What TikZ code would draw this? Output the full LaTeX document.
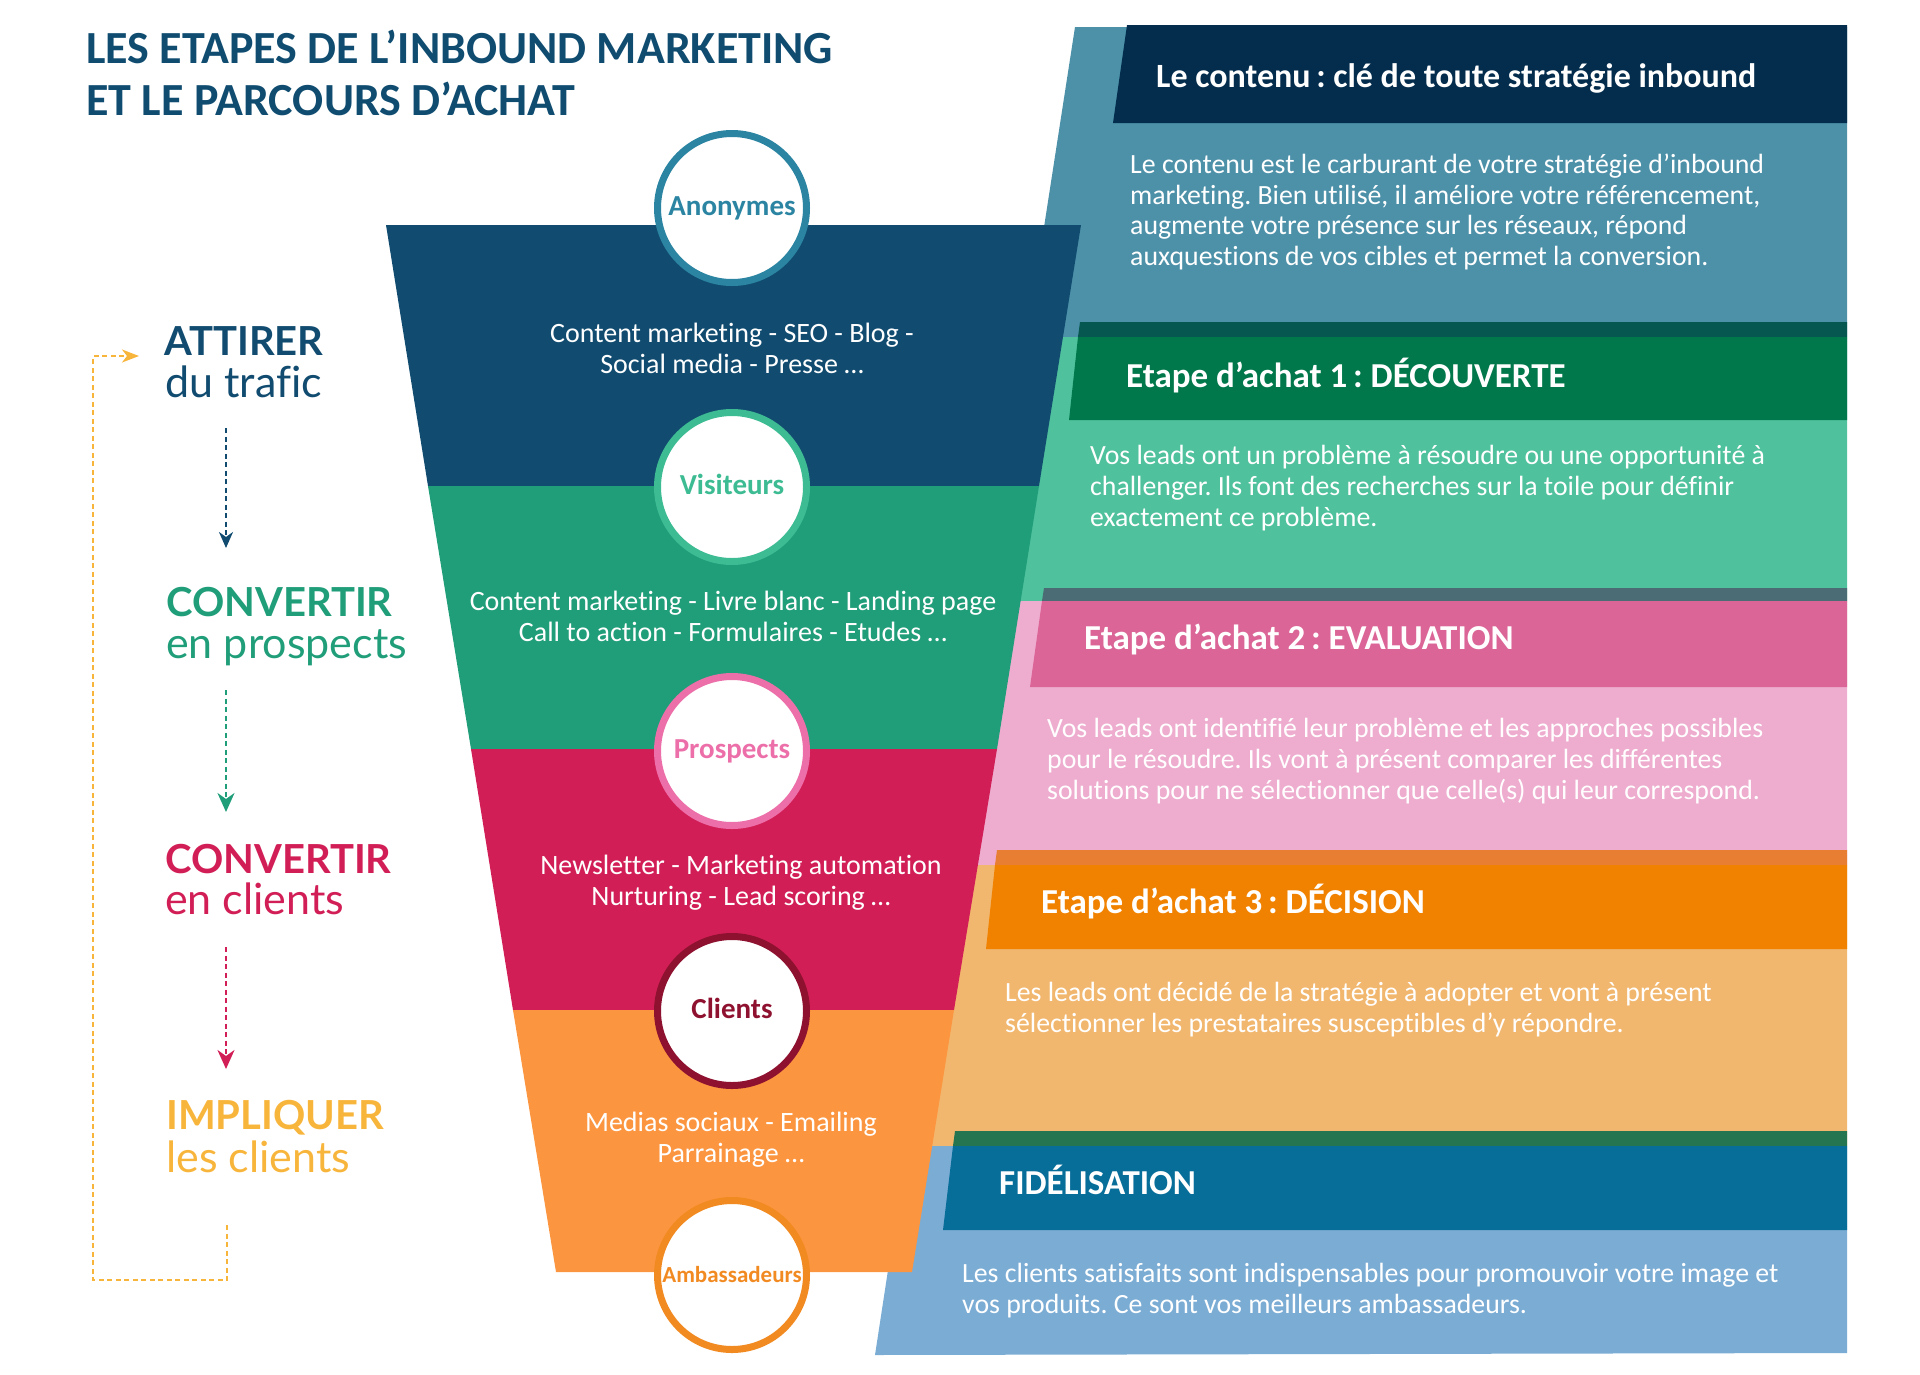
\documentclass[tikz,border=0pt]{standalone}
\usepackage{fontspec}
\setmainfont{Carlito}[Ligatures=NoCommon]
\newfontfamily\leftfont{Lato}[Ligatures=NoCommon]
\usetikzlibrary{arrows.meta}
\definecolor{titleblue}{HTML}{0F4C70}
\definecolor{bandteal}{HTML}{4D91A9}
\definecolor{bandgreen}{HTML}{4FC19C}
\definecolor{bandpink}{HTML}{EEADCF}
\definecolor{bandorange}{HTML}{F2B76E}
\definecolor{bandblue}{HTML}{7BACD4}
\definecolor{headnavy}{HTML}{042C4C}
\definecolor{headgreen}{HTML}{00784B}
\definecolor{headpink}{HTML}{DB6597}
\definecolor{headorange}{HTML}{F18200}
\definecolor{headblue}{HTML}{076D99}
\definecolor{stripgreen}{HTML}{06574F}
\definecolor{stripgrey}{HTML}{4B6C74}
\definecolor{striporange}{HTML}{E87E31}
\definecolor{stripmoss}{HTML}{257650}
\definecolor{funnelblue}{HTML}{114C70}
\definecolor{funnelgreen}{HTML}{209D79}
\definecolor{funnelred}{HTML}{D21E56}
\definecolor{funnelorange}{HTML}{FC9540}
\definecolor{ringteal}{HTML}{2A84A2}
\definecolor{ringgreen}{HTML}{3DBB92}
\definecolor{ringpink}{HTML}{EC6FA9}
\definecolor{ringred}{HTML}{8E1230}
\definecolor{ringorange}{HTML}{F28A22}
\definecolor{stepyellow}{HTML}{F8B53C}
\tikzset{
  ring/.style={circle, draw=#1, line width=7pt, fill=white, minimum size=149pt, inner sep=0pt, text=#1, text height=20pt, text depth=5pt, font=\bfseries\fontsize{29}{34}\selectfont},
  headtext/.style={anchor=base west, inner sep=0pt, text=white, font=\bfseries\fontsize{35}{38}\selectfont},
  bodytext/.style={anchor=base west, inner sep=0pt, text=white, align=left, font=\fontsize{27.8}{30.7}\selectfont},
  funneltext/.style={anchor=base, inner sep=0pt, text=white, align=center, font=\fontsize{28}{30.7}\selectfont},
  stepmain/.style={anchor=base west, inner sep=0pt, text=#1, font=\leftfont\bfseries\fontsize{40}{40}\selectfont},
  stepsub/.style={anchor=base west, inner sep=0pt, text=#1, font=\leftfont\fontsize{43}{40}\selectfont},
  flowline/.style={draw=#1, line width=2pt, dash pattern=on 5pt off 3.5pt, -{Stealth[length=19pt,width=17pt,inset=6pt]}},
}
\begin{document}
\frenchspacing
\begin{tikzpicture}[x=1pt,y=-1pt]
  \useasboundingbox (0,0) rectangle (1920,1374);
  % right column
  \fill [bandteal] (1075,27) -- (1847,27) -- (1847,337) -- (1027,337) -- cycle;
  \fill [bandgreen] (1027,337) -- (1847,337) -- (1847,601) -- (987,601) -- cycle;
  \fill [bandpink] (987,601) -- (1847,601) -- (1847,865) -- (947,865) -- cycle;
  \fill [bandorange] (947,865) -- (1847,865) -- (1847,1146) -- (907,1146) -- cycle;
  \fill [bandblue] (907,1146) -- (1847,1146) -- (1847,1353) -- (875,1355) -- cycle;
  \fill [headnavy] (1127,25) -- (1847,25) -- (1847,123) -- (1113,123) -- cycle;
  \fill [stripgreen] (1080,322) -- (1847,322) -- (1847,337) -- (1078,337) -- cycle;
  \fill [headgreen] (1078,337) -- (1847,337) -- (1847,420) -- (1069,420) -- cycle;
  \fill [stripgrey] (1044,588) -- (1847,588) -- (1847,601) -- (1042,601) -- cycle;
  \fill [headpink] (1042,601) -- (1847,601) -- (1847,687) -- (1030,687) -- cycle;
  \fill [striporange] (997,850) -- (1847,850) -- (1847,865) -- (995,865) -- cycle;
  \fill [headorange] (995,865) -- (1847,865) -- (1847,949) -- (986,949) -- cycle;
  \fill [stripmoss] (955,1131) -- (1847,1131) -- (1847,1146) -- (953,1146) -- cycle;
  \fill [headblue] (953,1146) -- (1847,1146) -- (1847,1230) -- (943,1230) -- cycle;
  % funnel
  \fill [funnelblue] (386,225) -- (1081,225) -- (1039,486) -- (428,486) -- cycle;
  \fill [funnelgreen] (428,486) -- (1039,486) -- (997,749) -- (471,749) -- cycle;
  \fill [funnelred] (471,749) -- (997,749) -- (954,1010) -- (513,1010) -- cycle;
  \fill [funnelorange] (513,1010) -- (954,1010) -- (912,1272) -- (556,1272) -- cycle;
  % circles
  \node [ring=ringteal] (anonymes) at (732,208) {Anonymes};
  \node [ring=ringgreen] (visiteurs) at (732,487) {Visiteurs};
  \node [ring=ringpink] (prospects) at (732,751) {Prospects};
  \node [ring=ringred] (clients) at (732,1011) {Clients};
  \node [ring=ringorange, font=\bfseries\fontsize{23}{28}\selectfont] (ambassadeurs) at (732,1275) {Ambassadeurs};
  % title
  \node [anchor=base west, inner sep=0pt, text=titleblue, align=left, font=\bfseries\fontsize{46}{51.5}\selectfont] (title) at (86,115) {LES ETAPES DE L’INBOUND MARKETING\\ET LE PARCOURS D’ACHAT};
  % funnel texts
  \node [funneltext] (tools1) at (732,373.5) {Content marketing - SEO - Blog -\\Social media - Presse …};
  \node [funneltext] (tools2) at (733,641) {Content marketing - Livre blanc - Landing page\\Call to action - Formulaires - Etudes …};
  \node [funneltext] (tools3) at (741,905.5) {Newsletter - Marketing automation\\Nurturing - Lead scoring …};
  \node [funneltext] (tools4) at (731,1162.5) {Medias sociaux - Emailing\\Parrainage …};
  % headers and paragraphs
  \node [headtext, font=\bfseries\fontsize{34}{38}\selectfont] (head0) at (1156,87) {Le contenu\,: clé de toute stratégie inbound};
  \node [bodytext] (body0) at (1130,265.6) {Le contenu est le carburant de votre stratégie d’inbound\\marketing. Bien utilisé, il améliore votre référencement,\\augmente votre présence sur les réseaux, répond\\auxquestions de vos cibles et permet la conversion.};
  \node [headtext] (head1) at (1126,387) {Etape d’achat 1\,: DÉCOUVERTE};
  \node [bodytext] (body1) at (1090,526) {Vos leads ont un problème à résoudre ou une opportunité à\\challenger. Ils font des recherches sur la toile pour définir\\exactement ce problème.};
  \node [headtext] (head2) at (1084,649) {Etape d’achat 2\,: EVALUATION};
  \node [bodytext] (body2) at (1047,799) {Vos leads ont identifié leur problème et les approches possibles\\pour le résoudre. Ils vont à présent comparer les différentes\\solutions pour ne sélectionner que celle(s) qui leur correspond.};
  \node [headtext] (head3) at (1041,913) {Etape d’achat 3\,: DÉCISION};
  \node [bodytext] (body3) at (1005,1032) {Les leads ont décidé de la stratégie à adopter et vont à présent\\sélectionner les prestataires susceptibles d’y répondre.};
  \node [headtext] (head4) at (999,1194) {FIDÉLISATION};
  \node [bodytext] (body4) at (962,1313) {Les clients satisfaits sont indispensables pour promouvoir votre image et\\vos produits. Ce sont vos meilleurs ambassadeurs.};
  % left steps
  \node [stepmain=funnelblue] (attirer) at (164,355) {ATTIRER};
  \node [stepsub=funnelblue] (trafic) at (165,397) {du trafic};
  \node [stepmain=funnelgreen] (convertir) at (166,616) {CONVERTIR};
  \node [stepsub=funnelgreen] (prospect) at (166,658) {en prospects};
  \node [stepmain=funnelred] (convclients) at (165,873) {CONVERTIR};
  \node [stepsub=funnelred] (enclients) at (165,914) {en clients};
  \node [stepmain=stepyellow] (impliquer) at (166,1129) {IMPLIQUER};
  \node [stepsub=stepyellow] (lesclients) at (166,1172) {les clients};
  % dashed arrows
  \coordinate (a1) at (226,428);
  \coordinate (a2) at (226,548);
  \coordinate (b1) at (226,690);
  \coordinate (b2) at (226,812);
  \coordinate (c1) at (226,947);
  \coordinate (c2) at (226,1069);
  \coordinate (d1) at (227,1225);
  \coordinate (d2) at (227,1280);
  \coordinate (d3) at (93,1280);
  \coordinate (d4) at (93,356);
  \coordinate (d5) at (139,356);
  \draw [flowline=funnelblue, -{Stealth[length=16pt,width=14pt,inset=5pt]}] (a1) -- (a2);
  \draw [flowline=funnelgreen] (b1) -- (b2);
  \draw [flowline=funnelred] (c1) -- (c2);
  \draw [flowline=stepyellow, -{Stealth[length=17pt,width=13pt,inset=5pt]}] (d1) -- (d2) -- (d3) -- (d4) -- (d5);
\end{tikzpicture}
\end{document}
